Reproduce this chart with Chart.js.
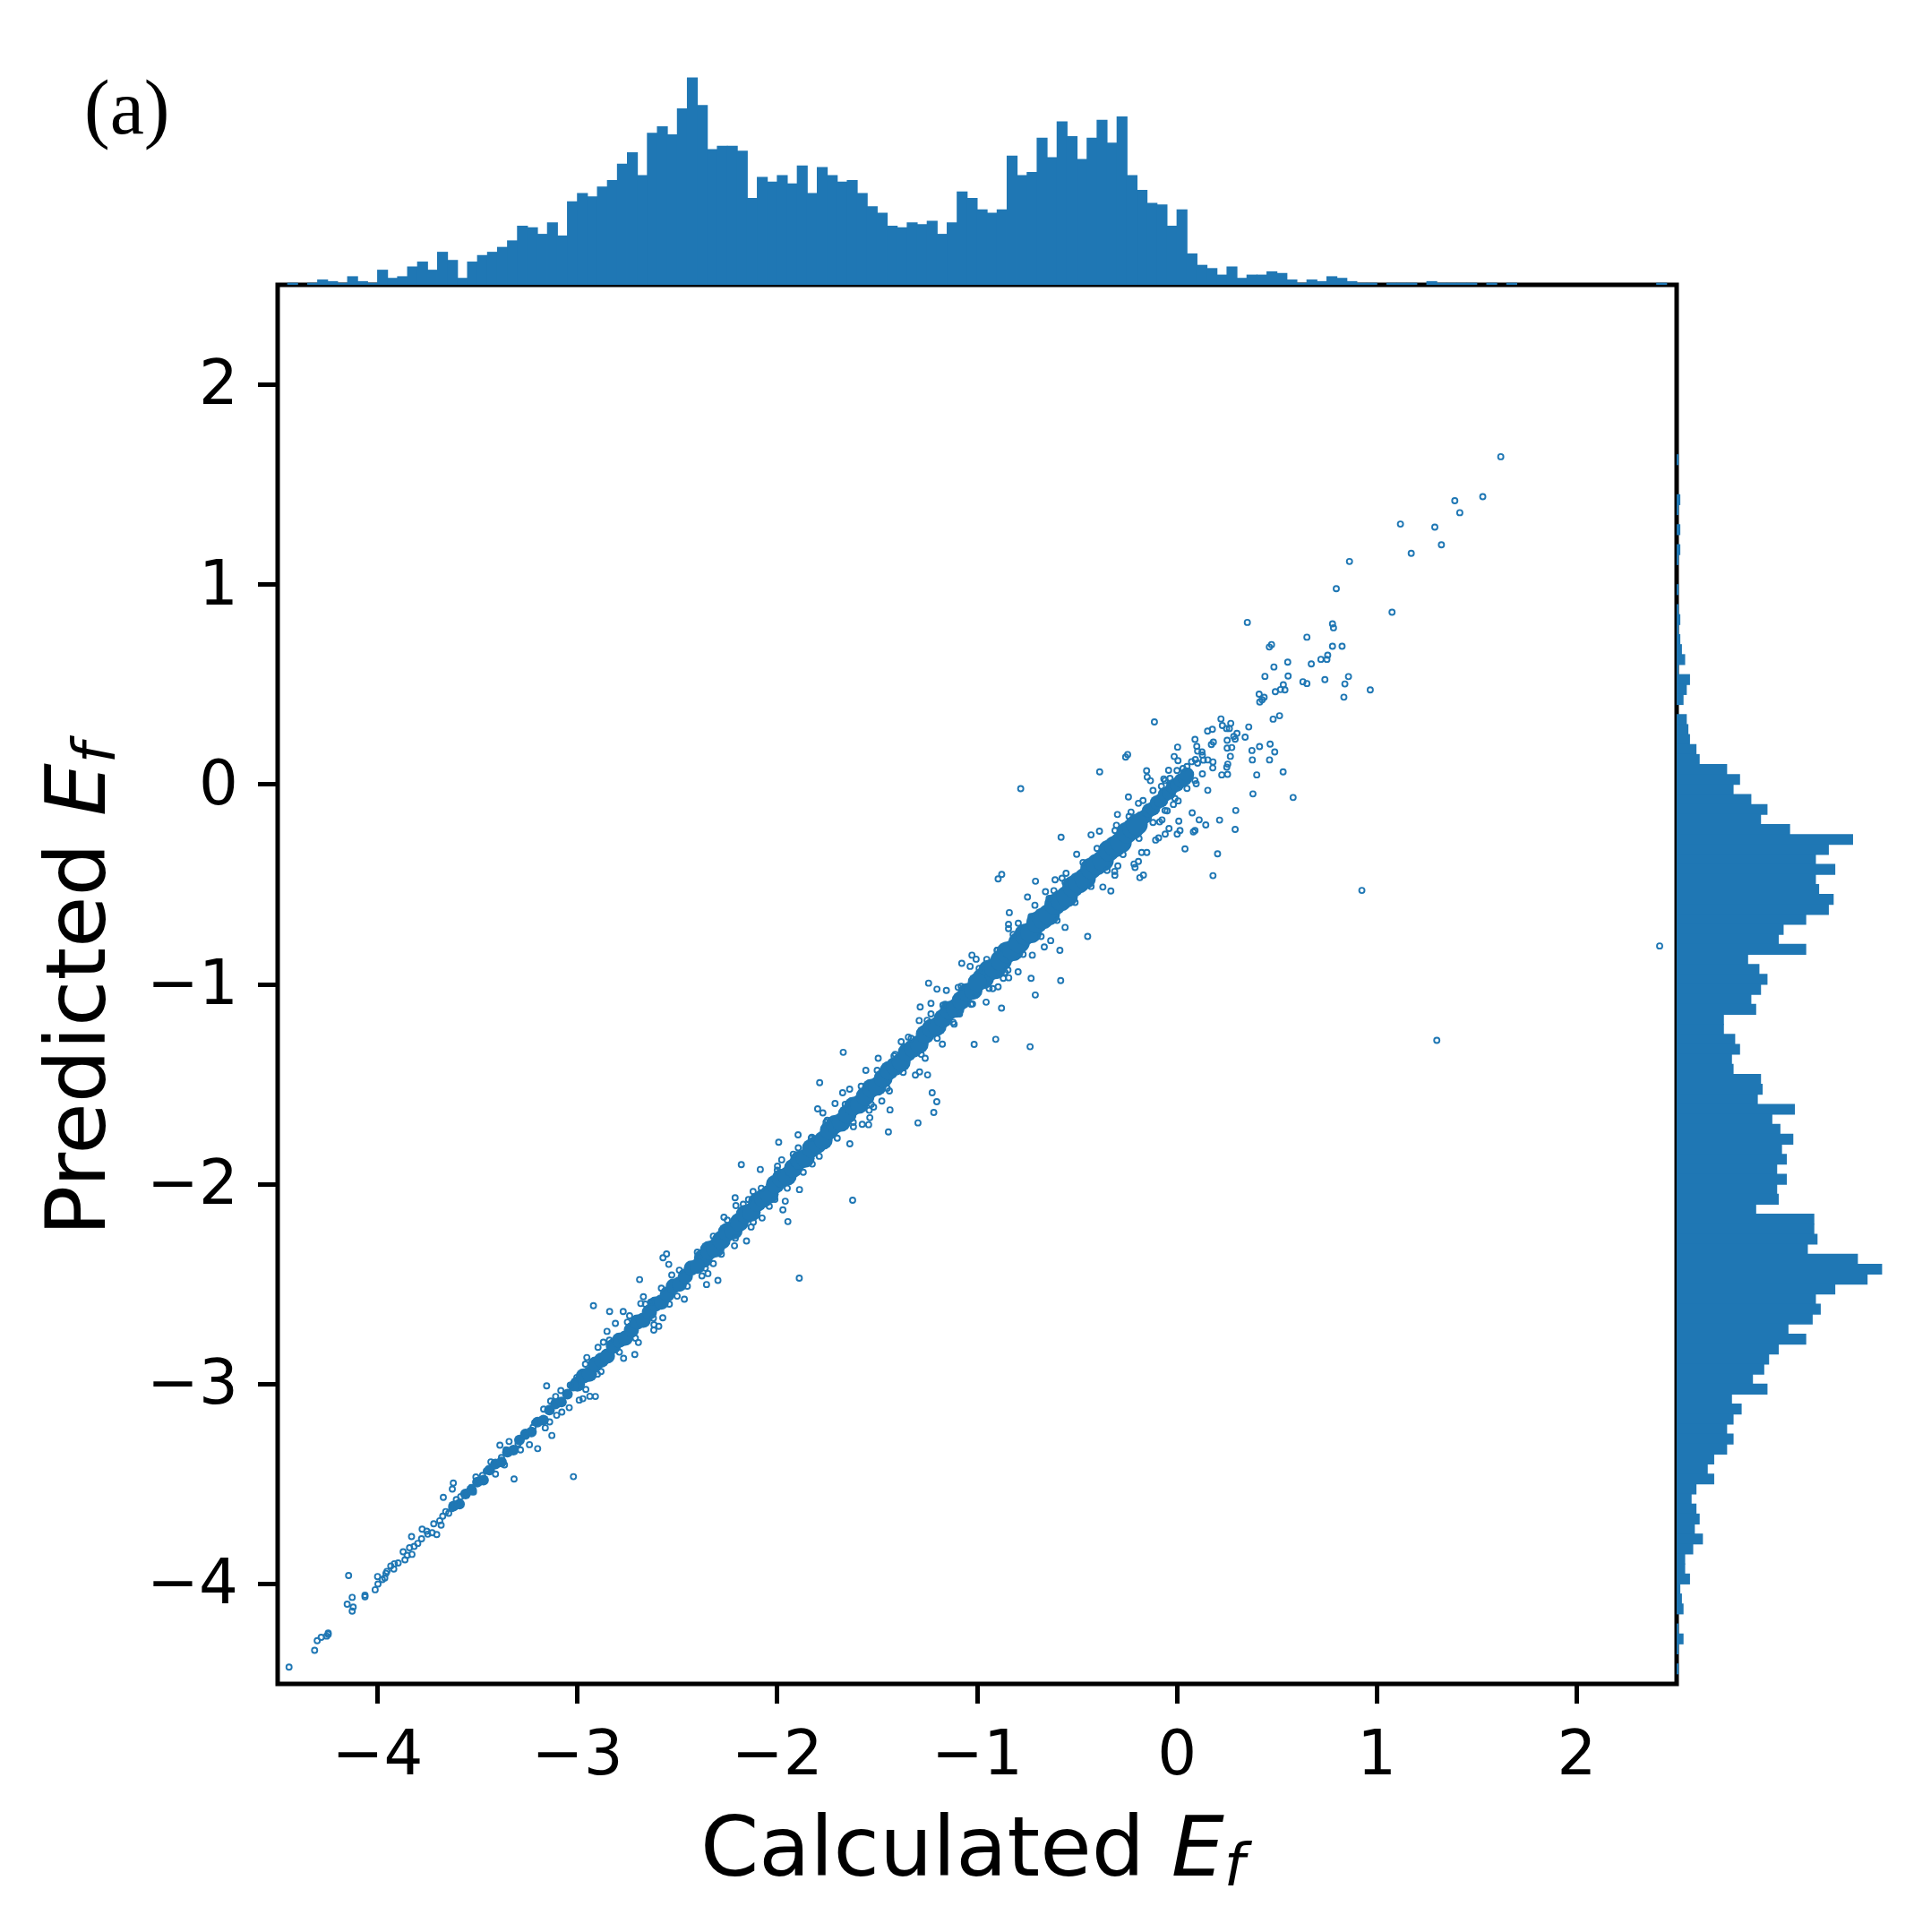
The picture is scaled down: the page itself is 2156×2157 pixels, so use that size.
<!DOCTYPE html>
<html><head><meta charset="utf-8">
<style>
html,body{margin:0;padding:0;background:#fff;width:2156px;height:2157px;overflow:hidden}
canvas{position:absolute;display:block}
.t{position:absolute;font-family:"DejaVu Sans";color:#000;white-space:nowrap;line-height:1}
.t i{font-style:italic}
.t i.s{font-size:.7em;position:relative;top:.17em}
</style>
<script src="https://cdn.jsdelivr.net/npm/chart.js@4"></script>
</head><body>
<canvas id="main" width="2156" height="2157" style="left:0;top:0"></canvas>
<canvas id="top" width="1562" height="258" style="left:310px;top:60px"></canvas>
<canvas id="right" width="250" height="1562" style="left:1872px;top:318px"></canvas>
<div class="t" style="left:94px;top:77px;font-family:'Liberation Serif';font-size:86px">(a)</div>
<div class="t" id="xl" style="left:782px;top:2015px;font-size:93.5px">Calculated <i>E</i><i class="s">f</i></div>
<div class="t" id="yl" style="left:38px;top:1380px;font-size:93.5px;transform-origin:0 0;transform:rotate(-90deg)">Predicted <i>E</i><i class="s">f</i></div>
<script>
// Histogram counts
const topStart = -4.45, topBinWidth = 0.05;
const topCounts = [1,0,1,3,2,1,5,2,1,9,4,5,11,14,9,20,15,4,14,18,20,23,27,36,35,31,38,30,51,56,54,60,64,74,81,67,93,97,92,108,127,110,83,85,85,82,53,66,63,67,62,73,56,72,67,63,64,56,48,44,36,35,38,37,39,31,38,57,53,46,44,46,79,67,69,90,78,100,91,77,90,101,87,103,67,58,50,49,36,46,19,12,10,6,11,4,6,6,8,7,3,1,3,2,5,4,2,1,1,0,1,1,1,0,2,1,1,1,1,0,1,0,1,0,0,0,0,0,0,0,0,0,0,0,0,0,0,1];
const rightTopCentre = 1.625, rightBinWidth = 0.05;
const rightCounts = [1,0,0,0,2,1,0,2,0,2,1,0,0,1,0,1,2,1,2,3,5,1,8,6,4,0,6,7,8,12,14,31,39,35,46,56,52,70,109,94,86,98,86,88,97,94,80,66,63,80,44,51,56,52,46,49,29,29,36,39,34,35,52,53,50,73,59,64,72,65,68,62,68,62,63,49,85,85,87,81,112,127,118,98,86,89,84,69,80,63,57,54,47,56,34,40,35,31,35,31,23,19,23,12,9,12,14,11,16,10,5,5,8,2,3,4,0,1,4,1,0,1];
const axisTicks = [-4,-3,-2,-1,0,1,2];

// Individually visible markers [calculated, predicted]
const upperOutliers = [[1.62,1.64],[1.53,1.44],[1.39,1.42],[1.415,1.36],[1.118,1.303],[1.29,1.288],[1.323,1.199],[1.172,1.157],[.863,1.116],[.797,.98],[1.076,.862],[.352,.811],[.778,.804],[.783,.784],[.65,.737],[.473,.70],[.462,.688],[.778,.692],[.826,.692],[.754,.647],[.554,.612],[.72,.626],[.75,.626],[.672,.603],[.485,.588],[.44,.541],[.556,.543],[.858,.54],[.74,.525],[.63,.514],[.65,.505],[.84,.503],[.532,.499],[.518,.475],[.54,.473],[.492,.464],[.967,.473],[.411,.452],[.436,.436],[.426,.424],[.414,.413],[.835,.437],[.513,.344],[.481,.327],[-.113,.313],[.22,.328],[.227,.295],[.269,.306],[.248,.28],[.262,.28],[.359,.288],[.153,.267],[.177,.276],[.3,.256],[.284,.24],[.291,.227],[.341,.237],[.09,.226],[.251,.221],[.182,.212],[.172,.2],[.099,.191],[.003,.187],[.251,.182],[.274,.185],[.466,.202],[.413,.19],[.375,.17],[.489,.163],[.103,.167],[.125,.163],[.127,.147],[.267,.141],[-.014,.14],[.377,.123],[.463,.123],[.005,.119],[.132,.122],[.154,.123],[.18,.113],[.092,.125],[.073,.114],[.103,.107],[.254,.102],[.249,.087],[.179,.083],[-.247,.15],[-.257,.137],[-.387,.063],[-.152,.069],[-.149,.037],[-.133,.019],[-.782,-.021],[.224,.048],[.253,.051],[.127,.053],[.399,.048],[.531,.063],[.154,-.029],[.38,-.047],[.581,-.065],[-.243,-.062],[-.193,-.094],[.294,-.13],[.076,-.142],[.213,-.178],[.111,-.177],[.144,-.202],[.009,-.183],[-.049,-.132],[.291,-.225],[-.04,-.22],[.015,-.23],[.09,-.23],[.082,-.237],[-.059,-.248],[.001,-.248],[-.092,-.267],[-.107,-.278],[.04,-.322],[.203,-.347],[-.151,-.34],[-.177,-.34],[.18,-.456],[-.58,-.264],[-.43,-.252],[-.388,-.234],[-.502,-.349],[-.312,-.435],[-.215,-.398],[-.21,-.415],[-.186,-.466],[-.895,-.472],[-.575,-.469],[-.298,-.15],[-.303,-.204],[-.23,-.138],[-.087,-.187],[-.075,-.177],[.006,-.082],[-.018,-.10],[-.066,.028],[-.078,-.009],[-.042,.071],[-.035,.031],[.03,.08],[.096,.004],[2.415,-.808],[1.30,-1.28],[.925,-.53]];
const middleOutliers = [[-.877,-.45],[-.708,-.484],[-.61,-.477],[-.447,-.76],[-.582,-.981],[-.709,-1.053],[-.735,-1.312],[-.907,-1.275],[-1.015,-1.30],[-.878,-1.119],[-.955,-1.089],[-1.174,-1.299],[-.73,-.97],[-.586,-.83],[-.795,-.937],[-.56,-.715],[-.632,-.781],[-.664,-.813],[-.724,-.854],[-.371,-.513],[-.331,-.533],[-.168,-.453],[-.311,-.454],[-.296,-.407],[-.193,-.385],[-.748,-.563],[-.711,-.604],[-.839,-.641],[-.843,-.70],[-.843,-.721],[-1.026,-.854],[-1.005,-.874],[-1.077,-.895],[-1.035,-.91],[-1.243,-.994],[-1.201,-1.024],[-1.154,-1.03],[-1.285,-1.113],[-1.231,-1.095],[-1.29,-1.181],[-1.38,-1.287],[-1.67,-1.34],[-1.788,-1.492],[-1.495,-1.37],[-1.557,-1.43],[-1.798,-1.623],[-1.772,-1.643],[-1.896,-1.753],[-1.993,-1.79],[-2.18,-1.902],[-2.085,-1.926],[-2.211,-2.068],[-2.207,-2.107],[-2.267,-2.165],[-1.248,-1.453],[-1.309,-1.454],[-1.288,-1.438],[-1.26,-1.37],[-1.225,-1.542],[-1.202,-1.587],[-1.217,-1.641],[-1.296,-1.693],[-1.444,-1.738],[-1.436,-1.628],[-1.543,-1.702],[-1.575,-1.70],[-1.518,-1.614],[-1.619,-1.712],[-1.637,-1.798],[-1.825,-1.899],[-1.889,-2.027],[-1.96,-2.085],[-1.972,-2.128],[-1.947,-2.187],[-1.623,-2.08],[-2.012,-2.076],[-2.076,-2.169],[-2.131,-2.214],[-2.154,-2.284],[-2.214,-2.308],[-1.439,-1.533],[-1.477,-1.584],[-1.537,-1.667],[-1.54,-1.63],[-1.115,-1.199],[-1.088,-1.148],[-1.023,-1.098],[-1.005,-1.053],[-.922,-1.021],[-.895,-1.012],[-.846,-.928],[-.869,-.97],[-.842,-.967],[-1.095,-1.015],[-1.171,-1.104],[-1.231,-1.148],[-1.344,-1.264],[-1.416,-1.358],[-1.638,-1.524],[-1.673,-1.542],[-1.711,-1.596],[-1.756,-1.69],[-1.827,-1.765],[-1.895,-1.818],[-1.978,-1.878],[-1.999,-1.91],[-2.121,-2.036],[-2.144,-2.077],[-.658,-.536],[-.616,-.531],[-.555,-.444],[-.794,-.694],[-.899,-.83],[-.952,-.875],[-1.89,-2.47]];
const lowerOutliers = [[-4.443,-4.416],[-4.315,-4.332],[-4.302,-4.284],[-4.282,-4.267],[-4.255,-4.261],[-4.247,-4.252],[-4.247,-4.245],[-4.145,-3.958],[-4.127,-4.067],[-4.152,-4.101],[-4.122,-4.116],[-4.127,-4.136],[-4.063,-4.056],[-4.063,-4.064],[-4.012,-4.029],[-4.0,-3.963],[-3.998,-4.0],[-3.976,-3.978],[-3.958,-3.947],[-3.953,-3.937],[-3.964,-3.97],[-3.934,-3.91],[-3.919,-3.925],[-3.916,-3.899],[-3.897,-3.895],[-3.863,-3.879],[-3.872,-3.839],[-3.852,-3.857],[-3.828,-3.852],[-3.84,-3.819],[-3.83,-3.763],[-3.817,-3.812],[-3.799,-3.797],[-3.78,-3.774],[-3.777,-3.726],[-3.754,-3.736],[-3.749,-3.751],[-3.727,-3.744],[-3.704,-3.753],[-3.719,-3.699],[-3.689,-3.684],[-3.682,-3.706],[-3.674,-3.661],[-3.659,-3.638],[-3.644,-3.646],[-3.671,-3.567],[-3.626,-3.525],[-3.621,-3.495],[-3.629,-3.623],[-3.611,-3.6],[-3.606,-3.578],[-3.584,-3.563],[-3.561,-3.551],[-3.531,-3.517],[-3.52,-3.54],[-3.508,-3.465],[-3.493,-3.487],[-3.475,-3.457],[-3.456,-3.435],[-3.433,-3.389],[-3.41,-3.45],[-3.425,-3.412],[-3.388,-3.306],[-3.38,-3.367],[-3.365,-3.404],[-3.357,-3.329],[-3.342,-3.287],[-3.324,-3.329],[-3.317,-3.475],[-3.285,-3.329],[-3.297,-3.299],[-3.259,-3.261],[-3.24,-3.303],[-3.199,-3.323],[-3.222,-3.216],[-3.214,-3.193],[-3.161,-3.219],[-3.128,-3.257],[-3.139,-3.189],[-3.169,-3.125],[-3.154,-3.009],[-3.134,-3.085],[-3.109,-3.062],[-3.104,-3.156],[-3.083,-3.032],[-3.078,-3.14],[-3.02,-3.463],[-3.041,-3.118],[-3.036,-3.005],[-3.003,-2.967],[-2.991,-3.08],[-2.973,-3.073],[-2.938,-3.061],[-2.91,-3.062],[-2.958,-3.027],[-2.92,-2.608],[-2.839,-2.637],[-2.771,-2.637],[-2.81,-2.696],[-2.852,-2.736],[-2.87,-2.79],[-2.897,-2.816],[-2.953,-2.867],[-2.882,-2.937],[-2.769,-2.871],[-2.713,-2.852],[-2.695,-2.792],[-2.617,-2.703],[-2.618,-2.73],[-2.593,-2.711],[-2.689,-2.477],[-2.67,-2.563],[-2.683,-2.597],[-2.572,-2.368],[-2.554,-2.349],[-2.543,-2.401],[-2.573,-2.668],[-2.465,-2.575],[-2.377,-2.459],[-2.354,-2.502],[-2.347,-2.447],[-2.32,-2.397],[-2.297,-2.481],[-2.633,-2.59],[-2.739,-2.658],[-2.501,-2.56],[-2.528,-2.454]];
// Markers hugging the edge of the dense band (estimated positions)
const bandFringe = [[-2.96,-2.90],[-2.90,-2.95],[-2.84,-2.78],[-2.79,-2.84],[-2.75,-2.69],[-2.71,-2.77],[-2.66,-2.60],[-2.62,-2.67],[-2.58,-2.52],[-2.54,-2.60],[-2.49,-2.43],[-2.45,-2.51],[-2.40,-2.34],[-2.36,-2.42],[-2.32,-2.26],[-2.28,-2.35],[-2.25,-2.18],[-2.21,-2.27],[-2.17,-2.10],[-2.12,-2.19],[-2.08,-2.02],[-2.04,-2.11],[-2.0,-1.93],[-1.95,-2.02],[-1.92,-1.85],[-1.87,-1.94],[-1.83,-1.77],[-1.79,-1.86],[-1.75,-1.68],[-1.70,-1.77],[-1.66,-1.60],[-1.62,-1.69],[-1.58,-1.51],[-1.53,-1.60],[-1.50,-1.43],[-1.45,-1.52],[-1.41,-1.35],[-1.37,-1.44],[-1.33,-1.27],[-1.28,-1.35],[-1.25,-1.18],[-1.20,-1.27],[-1.16,-1.10],[-1.12,-1.19],[-1.08,-1.01],[-1.03,-1.10],[-.99,-.92],[-.94,-1.02],[-.90,-.83],[-.86,-.94],[-.82,-.75],[-.77,-.85],[-.73,-.66],[-.68,-.76],[-.64,-.57],[-.60,-.68],[-.56,-.49],[-.51,-.59],[-.47,-.39],[-.43,-.51],[-.40,-.32],[-.35,-.43],[-.31,-.23],[-.27,-.35],[-.24,-.16],[-.19,-.27],[-.17,-.08],[-.12,-.19],[-.12,-.03],[-.06,-.13],[-.06,.02],[-.01,-.07],[0,.07],[.05,-.02],[.05,.09],[.09,.02]];

// Dense overlapping mass along the diagonal: estimated centre of the band, not separable markers
const bandThin = [[-3.62,-3.61],[-3.59,-3.60],[-3.56,-3.55],[-3.53,-3.53],[-3.50,-3.49],[-3.47,-3.48],[-3.44,-3.43],[-3.41,-3.40],[-3.38,-3.39],[-3.35,-3.34],[-3.32,-3.33],[-3.29,-3.28],[-3.26,-3.25],[-3.23,-3.24],[-3.20,-3.19],[-3.17,-3.18],[-3.14,-3.13],[-3.11,-3.10],[-3.08,-3.09],[-3.05,-3.05],[-3.02,-3.01]];
const bandLow = [[-3.0,-3.0],[-2.97,-2.96],[-2.94,-2.95],[-2.91,-2.90],[-2.88,-2.88],[-2.85,-2.86],[-2.82,-2.81],[-2.79,-2.78],[-2.76,-2.77],[-2.73,-2.73],[-2.70,-2.69],[-2.67,-2.68],[-2.64,-2.64],[-2.61,-2.60],[-2.58,-2.59],[-2.55,-2.55],[-2.52,-2.51],[-2.49,-2.50],[-2.46,-2.46],[-2.43,-2.42],[-2.40,-2.41]];
const bandMid = [[-2.37,-2.37],[-2.34,-2.33],[-2.31,-2.32],[-2.28,-2.28],[-2.25,-2.24],[-2.22,-2.23],[-2.19,-2.19],[-2.16,-2.15],[-2.13,-2.14],[-2.10,-2.09],[-2.07,-2.07],[-2.04,-2.05],[-2.01,-2.0],[-1.98,-1.97],[-1.95,-1.96],[-1.92,-1.92],[-1.89,-1.88],[-1.86,-1.87],[-1.83,-1.82],[-1.80,-1.80],[-1.77,-1.78],[-1.74,-1.73],[-1.71,-1.70],[-1.68,-1.69],[-1.65,-1.65],[-1.62,-1.61],[-1.59,-1.60],[-1.56,-1.56],[-1.53,-1.52],[-1.50,-1.51],[-1.47,-1.47],[-1.44,-1.43],[-1.41,-1.41],[-1.38,-1.39],[-1.35,-1.34],[-1.32,-1.32],[-1.29,-1.30],[-1.26,-1.25],[-1.23,-1.22],[-1.20,-1.21],[-1.17,-1.17],[-1.14,-1.13],[-1.11,-1.12],[-1.08,-1.08],[-1.05,-1.04],[-1.02,-1.03],[-1.0,-0.99]];
const bandHigh = [[-.97,-.97],[-.94,-.93],[-.91,-.92],[-.88,-.88],[-.85,-.84],[-.82,-.83],[-.79,-.79],[-.76,-.75],[-.73,-.74],[-.70,-.69],[-.67,-.67],[-.64,-.65],[-.61,-.60],[-.58,-.58],[-.55,-.56],[-.52,-.51],[-.49,-.49],[-.46,-.47],[-.43,-.42],[-.40,-.40],[-.37,-.38],[-.34,-.33],[-.31,-.31],[-.28,-.29],[-.25,-.24],[-.22,-.22],[-.20,-.20]];
const bandTip = [[-.18,-.17],[-.16,-.16],[-.14,-.13],[-.12,-.12],[-.10,-.09],[-.08,-.08],[-.06,-.05],[-.04,-.04],[-.02,-.01],[0,0],[.02,.02],[.04,.03],[.05,.05]];

const BLUE = '#1f77b4';
const toPts = a => a.map(p => ({x:p[0], y:p[1]}));
const ring = (name, arr) => ({label:name, data:toPts(arr), pointRadius:3, pointBorderWidth:1.9, pointBorderColor:BLUE, pointBackgroundColor:'rgba(0,0,0,0)'});
const mass = (name, arr, r) => ({label:name, data:toPts(arr), pointRadius:r, pointBorderWidth:0, pointBackgroundColor:BLUE});
const frame = {id:'frame', afterDraw(c){const a=c.chartArea,g=c.ctx;g.save();g.strokeStyle='#000';g.lineWidth=5;g.strokeRect(a.left,a.top,a.right-a.left,a.bottom-a.top);g.restore();}};
const tickFmt = v => (v<0 ? '\u2212'+Math.abs(v) : String(v));
const axis = (pos, sz, pad, off) => ({type:'linear', position:pos, min:-4.5, max:2.5,
  grid:{drawOnChartArea:false, drawTicks:true, tickLength:22, tickWidth:5, tickColor:'#000'},
  border:{display:false},
  afterBuildTicks:s=>{s.ticks=axisTicks.map(v=>({value:v}));},
  afterFit:sz,
  ticks:{includeBounds:false, autoSkip:false, maxRotation:0, padding:pad, labelOffset:off, color:'#000', font:{family:'DejaVu Sans', size:69}, callback:tickFmt}});
Chart.defaults.animation=false;
new Chart(document.getElementById('main'),{type:'scatter',
  data:{datasets:[ring('upper',upperOutliers),ring('middle',middleOutliers),ring('lower',lowerOutliers),ring('fringe',bandFringe),
    mass('band thin',bandThin,6),mass('band low',bandLow,8.5),mass('band mid',bandMid,10.5),mass('band high',bandHigh,12),mass('band tip',bandTip,8)]},
  options:{responsive:false, devicePixelRatio:1, animation:false, events:[],
    layout:{padding:{left:0,top:318,right:284,bottom:0}},
    plugins:{legend:{display:false},tooltip:{enabled:false}},
    scales:{x:axis('bottom',s=>{s.height=277;},20,0), y:axis('left',s=>{s.width=310;},22,4)}},
  plugins:[frame]});
const hidden = o => Object.assign({type:'linear',display:false,grid:{display:false},offset:false},o);
const barOpts = {backgroundColor:BLUE, borderWidth:0, barPercentage:1, categoryPercentage:1, grouped:false, inflateAmount:0.5};
new Chart(document.getElementById('top'),{type:'bar',
  data:{datasets:[Object.assign({label:'calculated',data:topCounts.map((c,i)=>({x:topStart+(i+.5)*topBinWidth,y:c})).filter(d=>d.y>0)},barOpts)]},
  options:{responsive:false, devicePixelRatio:1, animation:false, events:[], layout:{padding:0},
    plugins:{legend:{display:false},tooltip:{enabled:false}},
    scales:{x:hidden({min:-4.5,max:2.5}), y:hidden({min:0,max:141.8})}}});
new Chart(document.getElementById('right'),{type:'bar',
  data:{datasets:[Object.assign({label:'predicted',data:rightCounts.map((c,i)=>({x:c,y:rightTopCentre-i*rightBinWidth})).filter(d=>d.x>0)},barOpts)]},
  options:{indexAxis:'y',responsive:false, devicePixelRatio:1, animation:false, events:[], layout:{padding:0},
    plugins:{legend:{display:false},tooltip:{enabled:false}},
    scales:{x:hidden({min:0,max:138.7}), y:hidden({min:-4.5,max:2.5})}}});
</script>
</body></html>
